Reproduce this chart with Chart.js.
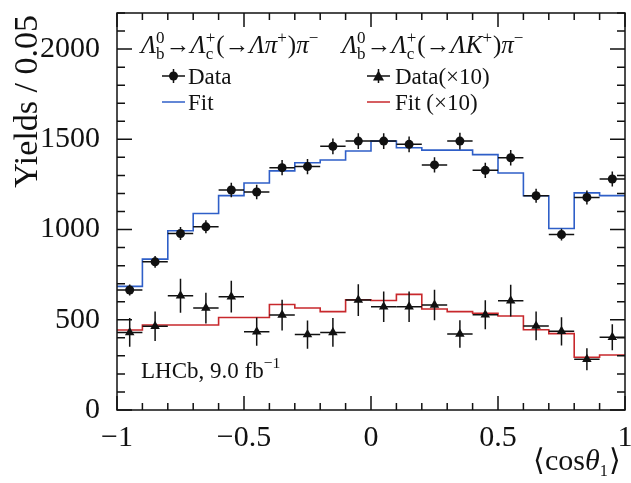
<!DOCTYPE html>
<html>
<head>
<meta charset="utf-8">
<script src="https://cdn.jsdelivr.net/npm/chart.js@4"></script>
<style>
  body { margin: 0; background: #fff; }
  #wrap { width: 631px; height: 483px; }
</style>
</head>
<body>
<div id="wrap"><canvas id="chart" width="631" height="483"></canvas></div>
<script>
// bins of <cos theta_1>, width 0.1
const binEdges = [-1, -0.9, -0.8, -0.7, -0.6, -0.5, -0.4, -0.3, -0.2, -0.1, 0, 0.1, 0.2, 0.3, 0.4, 0.5, 0.6, 0.7, 0.8, 0.9, 1];
const binCenters = [-0.95, -0.85, -0.75, -0.65, -0.55, -0.45, -0.35, -0.25, -0.15, -0.05, 0.05, 0.15, 0.25, 0.35, 0.45, 0.55, 0.65, 0.75, 0.85, 0.95];

// Lb -> Lc(-> L pi) pi
const dataPi = [665, 821, 978, 1015, 1219, 1208, 1343, 1349, 1461, 1490, 1490, 1472, 1358, 1490, 1328, 1398, 1187, 972, 1178, 1280];
const errPi = [30, 33, 36, 36, 40, 40, 42, 42, 44, 44, 44, 44, 42, 46, 42, 43, 39, 33, 39, 41];
const fitPi = [685, 836, 993, 1089, 1188, 1258, 1325, 1370, 1385, 1435, 1490, 1453, 1440, 1440, 1415, 1313, 1187, 1006, 1203, 1188];

// Lb -> Lc(-> L K) pi, scaled x10
const dataK = [430, 464, 633, 565, 628, 434, 526, 418, 430, 609, 572, 572, 582, 421, 528, 606, 466, 436, 281, 403];
const errK = [80, 82, 94, 85, 88, 78, 85, 78, 80, 88, 85, 85, 85, 76, 80, 88, 80, 78, 61, 72];
const fitK = [443, 471, 471, 471, 513, 513, 585, 565, 545, 611, 607, 641, 560, 545, 536, 521, 445, 423, 292, 305];

const xTickValues = [-1, -0.5, 0, 0.5, 1];
const xTickLabels = ['−1', '−0.5', '0', '0.5', '1'];
const yTickValues = [0, 500, 1000, 1500, 2000];
const yTickLabels = ['0', '500', '1000', '1500', '2000'];

const FONT = '"Liberation Serif", "Times New Roman", serif';
const INK = '#111';
const BLUE = '#2f5fc8';
const RED = '#c8282c';

function stepPoints(vals) {
    const pts = vals.map((v, i) => ({ x: binEdges[i], y: v }));
    pts.push({ x: binEdges[binEdges.length - 1], y: vals[vals.length - 1] });
    return pts;
}

function richText(ctx, x, y, parts, size) {
    for (const p of parts) {
        if (p.sub !== undefined || p.sup !== undefined) {
            const s = size * 0.68;
            ctx.font = `${s}px ${FONT}`;
            let w = 0;
            if (p.sup !== undefined) {
                ctx.fillText(p.sup, x, y - size * 0.42);
                w = Math.max(w, ctx.measureText(p.sup).width);
            }
            if (p.sub !== undefined) {
                ctx.fillText(p.sub, x, y + size * 0.25);
                w = Math.max(w, ctx.measureText(p.sub).width);
            }
            x += w + 1;
        } else {
            ctx.font = `${p.i ? 'italic ' : ''}${size}px ${FONT}`;
            ctx.fillText(p.t, x, y);
            x += ctx.measureText(p.t).width;
        }
    }
    return x;
}

const errorBars = {
    id: 'errorBars',
    afterDatasetsDraw(chart) {
        const { ctx, scales: { x, y } } = chart;
        ctx.save();
        ctx.strokeStyle = INK;
        ctx.lineWidth = 1.5;
        const sets = [[dataPi, errPi], [dataK, errK]];
        for (const [vals, errs] of sets) {
            vals.forEach((v, i) => {
                const cx = x.getPixelForValue(binCenters[i]);
                const cy = y.getPixelForValue(v);
                ctx.beginPath();
                ctx.moveTo(x.getPixelForValue(binEdges[i]), cy);
                ctx.lineTo(x.getPixelForValue(binEdges[i + 1]), cy);
                ctx.moveTo(cx, y.getPixelForValue(v - errs[i]));
                ctx.lineTo(cx, y.getPixelForValue(v + errs[i]));
                ctx.stroke();
            });
        }
        ctx.restore();
    }
};

const frameAndText = {
    id: 'frameAndText',
    afterDraw(chart) {
        const { ctx, chartArea: a, scales: { x, y } } = chart;
        ctx.save();
        ctx.strokeStyle = INK;
        ctx.lineWidth = 1.5;
        ctx.strokeRect(a.left, a.top, a.right - a.left, a.bottom - a.top);

        // inner ticks on all four sides
        ctx.beginPath();
        for (let k = 0; k <= 20; k++) {
            const v = -1 + k * 0.1;
            const px = x.getPixelForValue(v);
            const len = k % 5 === 0 ? 14 : 7;
            ctx.moveTo(px, a.bottom); ctx.lineTo(px, a.bottom - len);
            ctx.moveTo(px, a.top); ctx.lineTo(px, a.top + len);
        }
        for (let v = 0; v <= 2200; v += 100) {
            const py = y.getPixelForValue(v);
            const len = v % 500 === 0 ? 15 : 8;
            ctx.moveTo(a.left, py); ctx.lineTo(a.left + len, py);
            ctx.moveTo(a.right, py); ctx.lineTo(a.right - len, py);
        }
        ctx.stroke();

        ctx.fillStyle = INK;
        ctx.textBaseline = 'alphabetic';

        // y title
        ctx.save();
        ctx.translate(37, a.top + 2);
        ctx.rotate(-Math.PI / 2);
        ctx.textAlign = 'right';
        ctx.font = `34px ${FONT}`;
        ctx.fillText('Yields / 0.05', 0, 0);
        ctx.restore();

        // x title
        ctx.textAlign = 'left';
        let tx = 533;
        tx = richText(ctx, tx, 470, [{ t: '⟨cos' }, { t: 'θ', i: true }], 30);
        tx = richText(ctx, tx, 470, [{ sub: '1' }], 24);
        richText(ctx, tx, 470, [{ t: '⟩' }], 30);

        // legend headers
        const hdrPi = [{ t: 'Λ', i: true }, { sub: 'b', sup: '0' }, { t: '→' }, { t: 'Λ', i: true }, { sub: 'c', sup: '+' },
            { t: '(→' }, { t: 'Λπ', i: true }, { sup: '+' }, { t: ')' }, { t: 'π', i: true }, { sup: '−' }];
        const hdrK = [{ t: 'Λ', i: true }, { sub: 'b', sup: '0' }, { t: '→' }, { t: 'Λ', i: true }, { sub: 'c', sup: '+' },
            { t: '(→' }, { t: 'ΛK', i: true }, { sup: '+' }, { t: ')' }, { t: 'π', i: true }, { sup: '−' }];
        richText(ctx, 141, 53, hdrPi, 25);
        richText(ctx, 342, 53, hdrK, 25);

        // legend entries
        ctx.font = `23px ${FONT}`;
        ctx.fillText('Data', 188, 84);
        ctx.fillText('Fit', 188, 110);
        ctx.fillText('Data(×10)', 395, 84);
        ctx.fillText('Fit (×10)', 395, 110);

        ctx.lineWidth = 1.5;
        ctx.beginPath();
        ctx.moveTo(162, 76); ctx.lineTo(185, 76);
        ctx.moveTo(173.5, 69); ctx.lineTo(173.5, 83);
        ctx.moveTo(367, 76); ctx.lineTo(390, 76);
        ctx.moveTo(378.5, 69); ctx.lineTo(378.5, 83);
        ctx.stroke();
        ctx.beginPath();
        ctx.arc(173.5, 76, 4.5, 0, Math.PI * 2);
        ctx.fill();
        ctx.beginPath();
        ctx.moveTo(378.5, 70.5); ctx.lineTo(384, 80.5); ctx.lineTo(373, 80.5);
        ctx.closePath();
        ctx.fill();

        ctx.strokeStyle = BLUE;
        ctx.beginPath(); ctx.moveTo(162, 102); ctx.lineTo(185, 102); ctx.stroke();
        ctx.strokeStyle = RED;
        ctx.beginPath(); ctx.moveTo(367, 102); ctx.lineTo(390, 102); ctx.stroke();

        // experiment label
        ctx.fillStyle = INK;
        const lx = richText(ctx, 141, 378, [{ t: 'LHCb, 9.0 fb' }], 23);
        richText(ctx, lx, 378, [{ sup: '−1' }], 23);
        ctx.restore();
    }
};

new Chart(document.getElementById('chart').getContext('2d'), {
    type: 'scatter',
    data: {
        datasets: [
            {
                label: 'Data',
                data: binCenters.map((c, i) => ({ x: c, y: dataPi[i] })),
                pointStyle: 'circle',
                pointRadius: 4.5,
                backgroundColor: INK,
                borderColor: INK,
                borderWidth: 0
            },
            {
                label: 'Data(×10)',
                data: binCenters.map((c, i) => ({ x: c, y: dataK[i] })),
                pointStyle: 'triangle',
                pointRadius: 5.5,
                backgroundColor: INK,
                borderColor: INK,
                borderWidth: 0
            },
            {
                type: 'line',
                label: 'Fit',
                data: stepPoints(fitPi),
                stepped: true,
                borderColor: BLUE,
                borderWidth: 1.6,
                pointRadius: 0,
                fill: false
            },
            {
                type: 'line',
                label: 'Fit (×10)',
                data: stepPoints(fitK),
                stepped: true,
                borderColor: RED,
                borderWidth: 1.6,
                pointRadius: 0,
                fill: false
            }
        ]
    },
    options: {
        responsive: false,
        animation: false,
        layout: { padding: { top: 13, right: 6, left: 0, bottom: 0 } },
        plugins: {
            legend: { display: false },
            tooltip: { enabled: false }
        },
        scales: {
            x: {
                type: 'linear',
                min: -1,
                max: 1,
                grid: { display: false },
                border: { display: false },
                ticks: {
                    maxRotation: 0,
                    autoSkip: false,
                    padding: 2,
                    color: INK,
                    font: { family: FONT, size: 30 },
                    callback: (v) => xTickLabels[xTickValues.indexOf(v)]
                },
                afterBuildTicks: (s) => { s.ticks = xTickValues.map((v) => ({ value: v })); },
                afterFit: (s) => { s.height = 73; s.paddingLeft = 0; s.paddingRight = 0; }
            },
            y: {
                min: 0,
                max: 2200,
                grid: { display: false },
                border: { display: false },
                ticks: {
                    padding: 9,
                    color: INK,
                    font: { family: FONT, size: 30 },
                    callback: (v) => yTickLabels[yTickValues.indexOf(v)]
                },
                afterBuildTicks: (s) => { s.ticks = yTickValues.map((v) => ({ value: v })); },
                afterFit: (s) => { s.width = 117; s.paddingTop = 0; s.paddingBottom = 0; }
            }
        }
    },
    plugins: [errorBars, frameAndText]
});
</script>
</body>
</html>
